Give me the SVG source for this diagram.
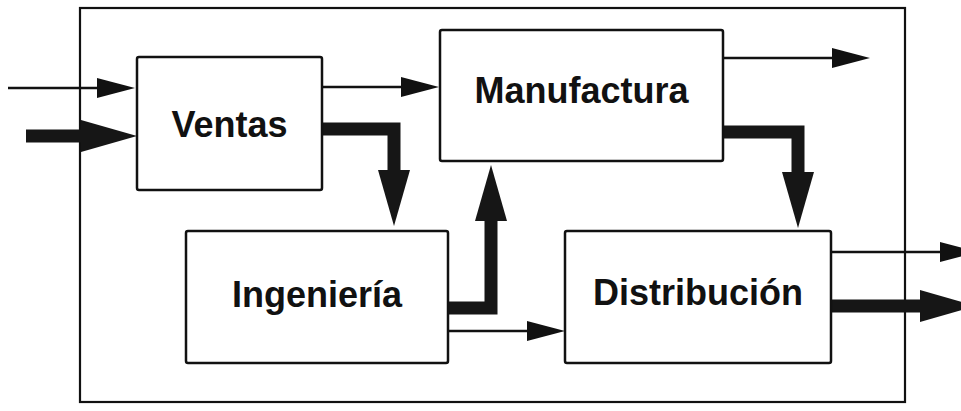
<svg xmlns="http://www.w3.org/2000/svg" width="961" height="411" viewBox="0 0 961 411">
  <style>
    .box { fill: #ffffff; stroke: #111111; stroke-width: 2.5; }
    .frame { fill: none; stroke: #111111; stroke-width: 2.2; }
    .label { font-family: "Liberation Sans", Arial, Helvetica, sans-serif; font-weight: bold; font-size: 36px; fill: #111111; text-anchor: middle; }
    .thin { fill: none; stroke: #111111; stroke-width: 2.5; marker-end: url(#headThin); }
    .thick { fill: none; stroke: #161616; stroke-width: 13; stroke-linejoin: miter; marker-end: url(#headThick); }
  </style>
  <defs>
    <marker id="headThin" markerUnits="userSpaceOnUse" markerWidth="40" markerHeight="22" refX="0" refY="10" orient="auto" overflow="visible">
      <path d="M0,0 L38,10 L0,20 z" fill="#111111"/>
    </marker>
    <marker id="headThick" markerUnits="userSpaceOnUse" markerWidth="58" markerHeight="34" refX="0" refY="16" orient="auto" overflow="visible">
      <path d="M0,0 L56,16 L0,32 z" fill="#161616"/>
    </marker>
  </defs>

  <rect width="961" height="411" fill="#ffffff"/>

  <!-- enclosing system boundary -->
  <rect class="frame" x="80" y="8" width="825" height="394"/>

  <!-- flows between departments -->
  <g id="connectors">
    <!-- thin flows -->
    <path class="thin" d="M8,88 H97"/>
    <path class="thin" d="M322,87 H401"/>
    <path class="thin" d="M723,58 H832"/>
    <path class="thin" d="M448,331 H527"/>
    <path class="thin" d="M831,252 H940"/>
    <!-- thick flows -->
    <path class="thick" d="M26,136 H81"/>
    <path class="thick" d="M322,129 H394 V170"/>
    <path class="thick" d="M723,132 H798 V172"/>
    <path class="thick" d="M448,308 H491 V221"/>
    <path class="thick" d="M831,306 H920"/>
  </g>

  <g id="ventas">
    <rect class="box" x="137" y="57" width="185" height="133" rx="2"/>
    <text class="label" x="229.5" y="137">Ventas</text>
  </g>

  <g id="manufactura">
    <rect class="box" x="440" y="30" width="283" height="131" rx="2"/>
    <text class="label" x="581.5" y="103">Manufactura</text>
  </g>

  <g id="ingenieria">
    <rect class="box" x="186" y="231" width="262" height="132" rx="2"/>
    <text class="label" x="317" y="307">Ingeniería</text>
  </g>

  <g id="distribucion">
    <rect class="box" x="565" y="231" width="266" height="132" rx="2"/>
    <text class="label" x="698" y="305">Distribución</text>
  </g>
</svg>
